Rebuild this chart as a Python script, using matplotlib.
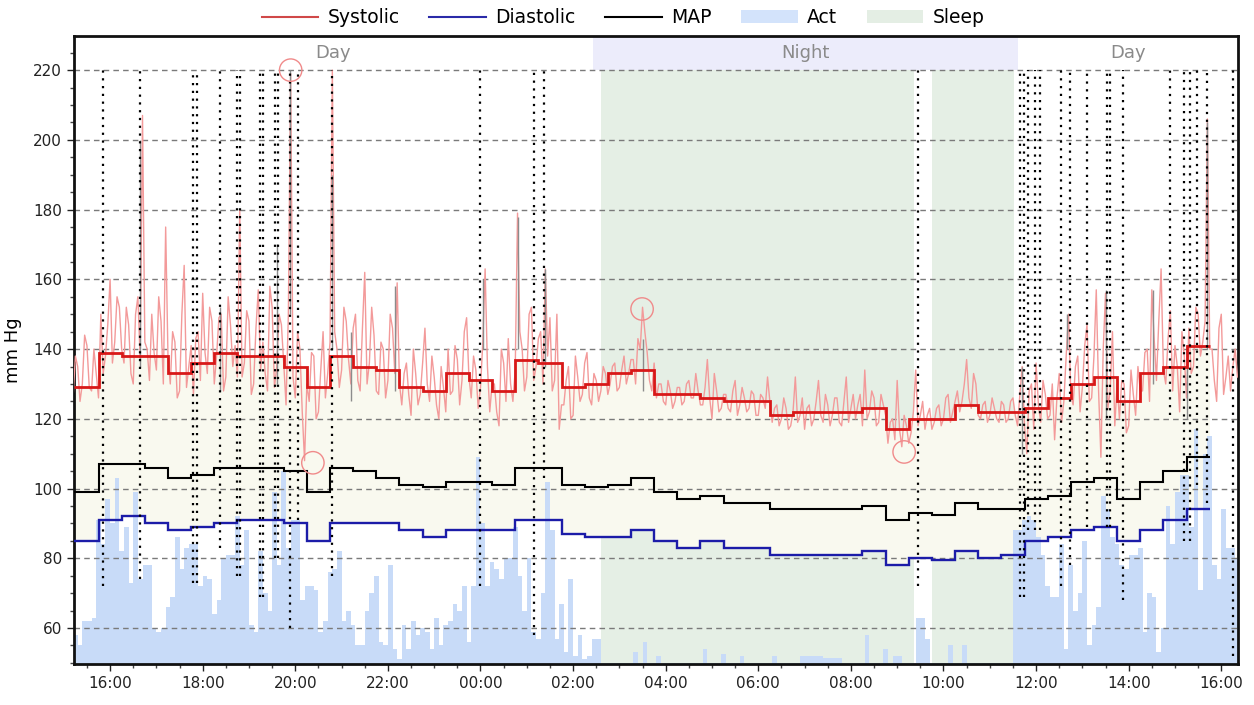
import numpy as np
import matplotlib.pyplot as plt
from matplotlib.lines import Line2D
from matplotlib.patches import Patch

plt.rcParams['font.family'] = ['DejaVu Sans']

# time axis: hours counted from midnight of the first day (24 = 00:00 next day)
x_start, x_end = 15.22, 40.36

# half-hour averaging blocks
block_edges = [15.22] + list(np.arange(15.75, 40.0, 0.5))
sys_step = [129, 139, 138, 138, 133, 136, 139, 138, 138, 135,
            129, 138, 135, 134, 129, 128, 133, 131, 128, 137,
            136, 129, 130, 133, 134, 127, 127, 126, 125, 125,
            121, 122, 122, 122, 123, 117, 120, 120, 124, 122,
            122, 123, 126, 130, 132, 125, 133, 135, 141]
map_step = [99, 107, 107, 106, 103, 104, 106, 106, 106, 105,
            99, 106, 105, 103, 101, 100.5, 102, 102, 101, 106,
            106, 101, 100.5, 101, 103, 99, 97, 98, 96, 96,
            94, 94, 94, 94, 95, 91, 93, 92.5, 96, 94,
            94, 97, 98, 102, 103, 97, 102, 105, 109]
dia_step = [85, 91, 92, 90, 88, 89, 90, 91, 91, 90,
            85, 90, 90, 90, 88, 86, 88, 88, 88, 91,
            91, 87, 86, 86, 88, 85, 83, 85, 83, 83,
            81, 81, 81, 81, 82, 78, 80, 79.5, 82, 80,
            81, 85, 86, 88, 89, 85, 88, 91, 94]

# raw systolic readings: series a every 0.1 h from 15.2, series b in between
raw_t0, raw_dt = 15.2, 0.1
raw_sys_a = [126, 135, 130, 141, 128, 133,
             150, 138, 160, 142, 152, 136, 147, 130, 155, 207,
             140, 150, 134, 148, 175, 130, 142, 128, 164, 135,
             127, 145, 156, 133, 148, 138, 150, 132, 147, 141,
             180, 136, 148, 130, 157, 142, 128, 152, 135, 147,
             124, 219, 126, 140, 108, 125, 138, 122, 145, 133,
             220, 140, 134, 148, 130, 150, 128, 162, 136, 144,
             127, 140, 131, 146, 159, 124, 136, 121, 133, 127,
             146, 125, 132, 120, 129, 140, 128, 137, 131, 149,
             126, 134, 129, 163, 122, 130, 118, 136, 143, 125,
             179, 140, 132, 152, 135, 145, 163, 149, 131, 117,
             124, 135, 121, 132, 127, 139, 124, 131, 128, 133,
             130, 136, 129, 138, 133, 137, 143, 152, 139, 128,
             126, 130, 124, 128, 125, 129, 125, 131, 126, 128,
             124, 137, 120, 128, 123, 127, 122, 131, 124, 126,
             123, 127, 121, 126, 132, 119, 124, 120, 123, 118,
             132, 121, 117, 124, 120, 131, 119, 124, 121, 126,
             118, 132, 123, 120, 127, 134, 122, 126, 119, 124,
             113, 120, 131, 112, 118, 116, 134, 121, 117, 123,
             119, 124, 120, 127, 122, 128, 125, 137, 123, 130,
             120, 125, 121, 123, 119, 124, 120, 126, 118, 135,
             110, 130, 136, 119, 127, 121, 114, 133, 125, 150,
             124, 138, 129, 147, 126, 157, 109, 156, 128, 118,
             120, 130, 118, 127, 135, 128, 140, 157, 131, 163,
             130, 151, 141, 122, 138, 146, 135, 150, 142, 206,
             140, 125, 150, 132, 128, 140]
raw_sys_b = [138, 125, 144, 129, 140, 126,
             133, 147, 136, 155, 140, 152, 133, 150, 137, 142,
             131, 139, 155, 130, 138, 145, 126, 150, 129, 141,
             143, 131, 139, 152, 130, 149, 128, 155, 135, 132,
             132, 151, 127, 146, 134, 133, 158, 129, 150, 136,
             150, 132, 145, 122, 130, 139, 120, 134, 126, 142,
             145, 129, 152, 137, 146, 131, 146, 130, 152, 128,
             142, 126, 150, 133, 130, 133, 127, 140, 124, 136,
             130, 138, 124, 135, 122, 127, 141, 124, 145, 132,
             138, 123, 142, 135, 130, 122, 140, 125, 130, 134,
             145, 128, 150, 131, 143, 130, 138, 128, 150, 124,
             131, 120, 138, 125, 136, 126, 133, 125, 135, 127,
             135, 128, 134, 130, 137, 130, 140, 145, 131, 136,
             130, 125, 131, 123, 129, 124, 130, 126, 133, 124,
             129, 126, 133, 122, 127, 123, 128, 121, 129, 122,
             128, 121, 127, 123, 125, 123, 118, 126, 117, 122,
             119, 126, 123, 118, 125, 121, 127, 118, 126, 119,
             125, 119, 127, 124, 118, 120, 128, 118, 127, 121,
             119, 114, 117, 121, 113, 122, 118, 125, 121, 117,
             123, 118, 126, 119, 125, 122, 130, 126, 133, 121,
             124, 119, 126, 120, 125, 119, 125, 121, 127, 118,
             128, 117, 124, 131, 120, 130, 126, 119, 138, 127,
             135, 122, 141, 125, 138, 128, 140, 123, 145, 130,
             131, 116, 134, 121, 128, 139, 125, 143, 148, 134,
             143, 128, 135, 145, 126, 133, 152, 138, 148, 140,
             131, 146, 127, 138, 135, 132]

# darker overlapping segments in the raw trace: time, low, high
gray_t = [16.65, 18.37, 19.60, 19.89, 20.80, 21.20, 22.15, 24.05, 24.80, 25.40,
          27.50, 35.70, 36.67, 37.50, 38.53, 39.27, 39.70]
gray_lo = [135, 128, 130, 150, 140, 125, 128, 140, 140, 135,
           128, 110, 140, 120, 130, 120, 140]
gray_hi = [200, 152, 170, 220, 190, 145, 158, 160, 178, 163,
           143, 135, 150, 157, 157, 140, 205]

# activity bars (drawn on the mm Hg scale, baseline 50), one every 0.1 h from 15.2
act_t0, act_dt = 15.2, 0.1
act_top = [58, 55, 62, 62, 63, 91, 84, 97, 90, 103,
           82, 89, 73, 99, 74, 78, 78, 60, 59, 60,
           66, 69, 86, 77, 83, 84, 84, 72, 75, 74,
           64, 68, 80, 81, 81, 92, 78, 88, 61, 59,
           82, 70, 65, 99, 78, 105, 83, 91, 91, 68,
           72, 72, 71, 59, 62, 76, 77, 82, 62, 65,
           61, 55, 55, 65, 70, 75, 56, 55, 78, 54,
           51, 61, 54, 62, 58, 60, 59, 54, 63, 55,
           61, 62, 67, 65, 72, 56, 72, 109, 90, 72,
           79, 77, 74, 80, 80, 89, 75, 65, 80, 59,
           57, 70, 102, 88, 57, 67, 53, 74, 52, 58,
           51, 52, 57, 57, 50, 50, 50, 50, 50, 50,
           50, 53, 50, 56, 50, 50, 52, 50, 50, 50,
           50, 50, 50, 50, 50, 50, 54, 50, 50, 50,
           52.5, 50, 50, 50, 52, 50, 50, 50, 50, 50,
           50, 52, 50, 50, 50, 50, 50, 52, 52, 52,
           52, 52, 51.5, 51.5, 51.5, 51.5, 50, 50, 50, 50,
           50, 58, 50, 50, 50, 54, 50, 52, 52, 50,
           50, 50, 63, 63, 57, 50, 50, 50, 50, 55,
           50, 50, 55, 50, 50, 50, 50, 50, 50, 50,
           50, 50, 50, 88, 88, 91, 92, 91, 86, 81,
           72, 69, 69, 84, 54, 78, 65, 70, 85, 55,
           61, 66, 98, 94, 86, 84, 78, 77, 81, 81,
           83, 59, 70, 69, 53, 60, 95, 84, 99, 104,
           104, 89, 117, 71, 110, 115, 78, 74, 94, 83,
           83, 80]

# event markers: time and lower end of the dotted line
marker_t = [15.85, 16.65, 17.79, 17.88, 18.38, 18.74, 18.81, 19.24, 19.30, 19.56,
            19.63, 19.89, 20.06, 20.79, 23.99, 25.16, 25.37, 33.45, 35.65, 35.74,
            35.83, 35.98, 36.09, 36.54, 36.73, 37.10, 37.53, 37.60, 37.88, 38.89,
            39.20, 39.33, 39.48, 39.69, 40.25]
marker_low = [72, 74, 73, 73, 83, 75, 75, 69, 69, 80,
              80, 60, 91, 75, 72, 58, 103, 72, 69, 69,
              88, 88, 88, 72, 78, 89, 89, 89, 68, 121,
              85, 85, 101, 96, 52]

# flagged readings (circled)
flag_t = [19.90, 20.38, 27.49, 33.15]
flag_v = [220, 107.4, 151.5, 110.5]

night = (26.42, 35.60)
sleep = [(26.60, 33.37), (33.75, 35.52)]

fig = plt.figure(figsize=(12.54, 7.05), dpi=100)
ax = fig.add_axes([0.059, 0.0582, 0.9282, 0.8908])
ax.set_xlim(x_start, x_end)
ax.set_ylim(49.7, 229.8)

# night band on top, sleep shading below
ax.fill_between(night, 220, 230, color='#ececfb', lw=0, zorder=0)
for s0, s1 in sleep:
    ax.fill_between([s0, s1], 49, 220, color='#e5efe5', lw=0, zorder=0)
ax.text((x_start + night[0]) / 2, 225, 'Day', ha='center', va='center', color='#8a8a8a', fontsize=13)
ax.text(sum(night) / 2, 225, 'Night', ha='center', va='center', color='#8a8a8a', fontsize=13)
ax.text((night[1] + x_end) / 2, 225, 'Day', ha='center', va='center', color='#8a8a8a', fontsize=13)

# band between systolic and diastolic
ax.stairs(sys_step, block_edges, baseline=dia_step, fill=True, color='#f9f9ef', lw=0, zorder=1)

# activity
act_edges = act_t0 + act_dt * np.arange(len(act_top) + 1)
ax.stairs(act_top, act_edges, baseline=49.7, fill=True, color='#c8dbf8', lw=0, zorder=2)

# grid
for v in range(60, 221, 20):
    ax.axhline(v, color='#7a7a7a', lw=1, ls=(0, (4, 3)), zorder=2.5)

# raw trace (a and b interleaved)
ta = raw_t0 + raw_dt * np.arange(len(raw_sys_a))
tb = ta + raw_dt / 2
raw_time = np.column_stack([ta, tb]).ravel()
raw_vals = np.column_stack([raw_sys_a, raw_sys_b]).ravel()
ax.plot(raw_time, raw_vals, color='#f39a9a', lw=1, zorder=3)
ax.vlines(gray_t, gray_lo, gray_hi, colors='#8c8c8c', lw=1, zorder=3.2)

# half-hour averages
ax.stairs(sys_step, block_edges, baseline=None, color='#d81818', lw=2, zorder=4)
ax.stairs(map_step, block_edges, baseline=None, color='black', lw=1.5, zorder=4)
ax.stairs(dia_step, block_edges, baseline=None, color='#1c1ca8', lw=1.7, zorder=4)

ax.vlines(marker_t, marker_low, 220, colors='black', linestyles=(0, (1, 2.5)), lw=1.6, zorder=5)
ax.scatter(flag_t, flag_v, s=260, facecolors='none', edgecolors='#f08a8a', lw=1, zorder=6)

# axes styling
hours = np.arange(16, 41, 2)
ax.set_xticks(hours)
ax.set_xticklabels([f'{h % 24:02d}:00' for h in hours])
ax.set_xticks(np.arange(15.5, 40.4, 0.5), minor=True)
ax.set_yticks(range(60, 221, 20))
ax.set_yticks(range(50, 230, 5), minor=True)
ax.tick_params(which='major', length=5, width=1, labelsize=11, colors='#222222')
ax.tick_params(which='minor', length=3, width=1, colors='#444444')
for sp in ax.spines.values():
    sp.set_linewidth(2)
    sp.set_color('#111111')
ax.set_ylabel('mm Hg', fontsize=13)
ax.yaxis.set_label_coords(-0.045, 0.5)

handles = [Line2D([], [], color='#d04848', lw=1.5),
           Line2D([], [], color='#2a2aa8', lw=1.5),
           Line2D([], [], color='black', lw=1.5),
           Patch(facecolor='#d3e3fb', edgecolor='none'),
           Patch(facecolor='#e4eee4', edgecolor='none')]
fig.legend(handles, ['Systolic', 'Diastolic', 'MAP', 'Act', 'Sleep'],
           loc='center', bbox_to_anchor=(0.497, 0.975), ncol=5, frameon=False,
           fontsize=13.5, handlelength=3, handletextpad=0.5, columnspacing=1.6)

fig.savefig('out.png', dpi=100)
